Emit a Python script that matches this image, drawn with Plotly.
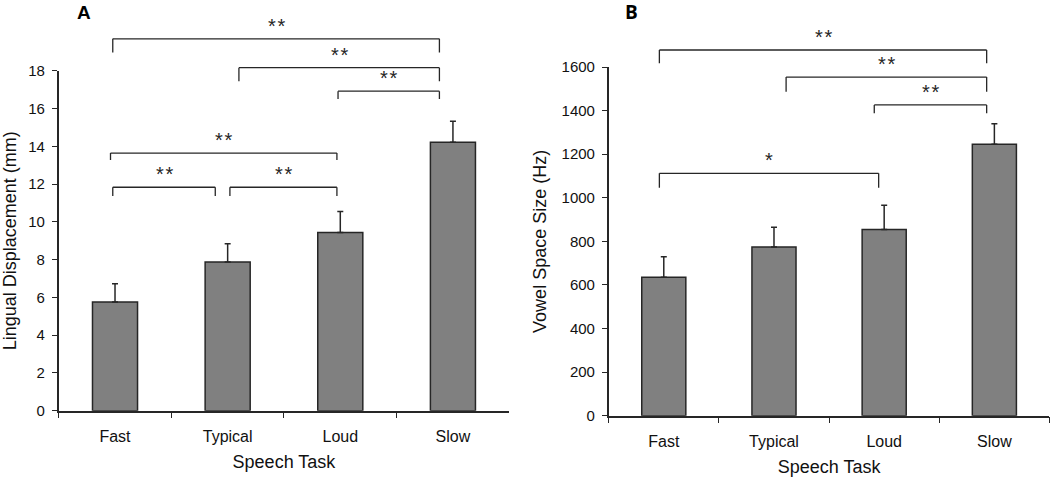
import plotly.graph_objects as go

categories = ["Fast", "Typical", "Loud", "Slow"]

# Panel A: Lingual displacement (mm)
a_values = [5.75, 7.87, 9.44, 14.21]
a_errors = [0.97, 0.97, 1.11, 1.11]
a_ymax = 18
a_tick_step = 2

# Panel B: Vowel space size (Hz)
b_values = [635, 774, 854, 1246]
b_errors = [95, 91, 112, 94]
b_ymax = 1600
b_tick_step = 200

# significance brackets: left/right ends (category position), bar level, leg bottom, label
a_br_left = [-0.02, 1.10, 1.98, -0.04, -0.02, 1.02]
a_br_right = [2.88, 2.88, 2.88, 1.97, 0.89, 1.97]
a_br_level = [19.69, 18.16, 16.92, 13.64, 11.83, 11.83]
a_br_leg = [18.97, 17.44, 16.50, 13.27, 11.37, 11.37]
a_br_label = ["**", "**", "**", "**", "**", "**"]

b_br_left = [-0.04, 1.11, 1.91, -0.04]
b_br_right = [2.93, 2.93, 2.93, 1.95]
b_br_level = [1678, 1554, 1426, 1112]
b_br_leg = [1617, 1487, 1388, 1046]
b_br_label = ["**", "**", "**", "*"]

BAR = "#808080"
INK = "#262626"
FONT = "Liberation Sans, Arial, sans-serif"

fig = go.Figure()

fig.add_trace(go.Bar(
    x=categories, y=a_values, width=0.4, xaxis="x", yaxis="y",
    marker=dict(color=BAR, line=dict(color=INK, width=1.5)),
    error_y=dict(type="data", array=a_errors, arrayminus=[0] * 4, symmetric=False,
                 color=INK, thickness=1.5, width=3),
    showlegend=False,
))
fig.add_trace(go.Bar(
    x=categories, y=b_values, width=0.4, xaxis="x2", yaxis="y2",
    marker=dict(color=BAR, line=dict(color=INK, width=1.5)),
    error_y=dict(type="data", array=b_errors, arrayminus=[0] * 4, symmetric=False,
                 color=INK, thickness=1.5, width=3),
    showlegend=False,
))

shapes = []
annotations = []


def add_brackets(xref, yref, ymax, lefts, rights, levels, legs, labels):
    for l, r, lv, lg, lab in zip(lefts, rights, levels, legs, labels):
        line = dict(color=INK, width=1.3)
        shapes.append(dict(type="line", xref=xref, yref=yref + " domain",
                           x0=l, x1=r, y0=lv / ymax, y1=lv / ymax, line=line))
        shapes.append(dict(type="line", xref=xref, yref=yref + " domain",
                           x0=l, x1=l, y0=lv / ymax, y1=lg / ymax, line=line))
        shapes.append(dict(type="line", xref=xref, yref=yref + " domain",
                           x0=r, x1=r, y0=lv / ymax, y1=lg / ymax, line=line))
        annotations.append(dict(xref=xref, yref=yref + " domain", x=(l + r) / 2,
                                y=lv / ymax, yanchor="bottom", xanchor="center",
                                text="\u200a".join(lab), showarrow=False, yshift=0,
                                font=dict(family=FONT, size=20, color=INK)))


add_brackets("x", "y", a_ymax, a_br_left, a_br_right, a_br_level, a_br_leg, a_br_label)
add_brackets("x2", "y2", b_ymax, b_br_left, b_br_right, b_br_level, b_br_leg, b_br_label)

annotations.append(dict(xref="paper", yref="paper", x=0.071, y=1.0, xanchor="left", yanchor="top",
                        text="<b>A</b>", showarrow=False,
                        font=dict(family=FONT, size=19, color="#000")))
annotations.append(dict(xref="paper", yref="paper", x=0.593, y=1.0, xanchor="left", yanchor="top",
                        text="<b>B</b>", showarrow=False, yshift=3,
                        font=dict(family="Open Sans, sans-serif", size=19, color="#000")))

xaxis_common = dict(
    type="category", tickson="boundaries", ticks="outside", ticklen=6, tickwidth=1.3,
    tickcolor=INK, showline=True, linecolor=INK, linewidth=1.5, showgrid=False,
    zeroline=False, range=[-0.5, 3.5], automargin=False, ticklabelstandoff=10,
    tickfont=dict(family=FONT, size=16, color="#111"),
    title=dict(text="Speech Task", font=dict(family=FONT, size=18, color="#111"), standoff=12),
)
yaxis_common = dict(
    ticks="outside", ticklen=5, tickwidth=1.3, tickcolor=INK, showline=True,
    linecolor=INK, linewidth=1.5, showgrid=False, zeroline=False, automargin=False,
    ticklabelstandoff=4,
    tickfont=dict(family=FONT, size=15, color="#111"),
)

fig.update_layout(
    width=1050, height=478,
    margin=dict(l=0, r=0, t=0, b=0, autoexpand=False),
    paper_bgcolor="white", plot_bgcolor="white",
    showlegend=False,
    xaxis=dict(domain=[0.0559, 0.485], anchor="y", **xaxis_common),
    xaxis2=dict(domain=[0.5797, 0.9995], anchor="y2", **xaxis_common),
    yaxis=dict(domain=[0.1408, 0.852], anchor="x", range=[0, a_ymax], dtick=a_tick_step,
               title=dict(text="Lingual Displacement (mm)",
                          font=dict(family=FONT, size=18, color="#111"), standoff=10),
               **yaxis_common),
    yaxis2=dict(domain=[0.1303, 0.8598], anchor="x2", range=[0, b_ymax], dtick=b_tick_step,
                title=dict(text="Vowel Space Size (Hz)",
                           font=dict(family=FONT, size=18, color="#111"), standoff=10),
                **yaxis_common),
    shapes=shapes,
    annotations=annotations,
    bargap=0.6,
)

fig.write_html("out.html", config={"displayModeBar": False},
               post_script="document.body.style.margin='0';document.body.style.overflow='hidden';")
